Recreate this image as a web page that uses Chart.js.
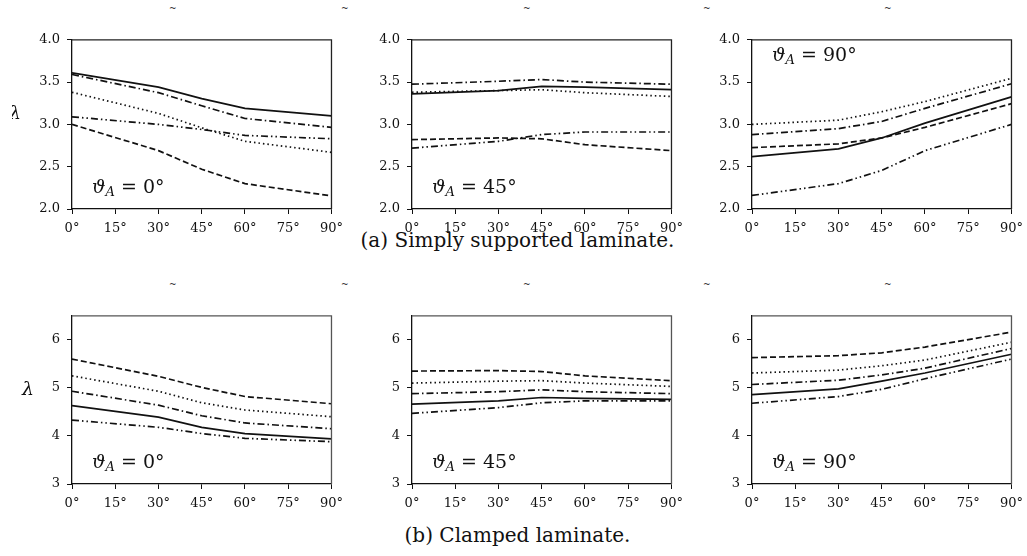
<!DOCTYPE html>
<html>
<head>
<meta charset="utf-8">
<script src="https://cdn.jsdelivr.net/npm/chart.js@4.4.1/dist/chart.umd.min.js"></script>
<style>
    body { margin: 0; background: #fff; width: 1027px; height: 556px; position: relative; overflow: hidden; font-family: "DejaVu Serif", serif; }
    .panel { position: absolute; }
    .caption { position: absolute; left: 0; width: 1035px; text-align: center; font-size: 20px; color: #111; }
    .clip { position: absolute; font-size: 9px; color: #333; line-height: 9px; }
</style>
</head>
<body>
<div class="caption" id="capA" style="top:228px;">(a) Simply supported laminate.</div>
<div class="caption" id="capB" style="top:523px;">(b) Clamped laminate.</div>

<script>
// fibre angle on the x axis (degrees)
const angles = [0, 30, 45, 60, 90];
const xTicks = [0, 15, 30, 45, 60, 75, 90];
const thetaA = [0, 45, 90];

// line order: solid, dashed, dotted, dash-dot, dash-dot-dot
// (a) simply supported laminate
const ssTheta0  = [[3.61, 3.44, 3.305, 3.19, 3.10], [3.00, 2.69, 2.47, 2.30, 2.155], [3.38, 3.13, 2.96, 2.80, 2.67], [3.59, 3.375, 3.22, 3.07, 2.965], [3.09, 3.00, 2.94, 2.87, 2.83]];
const ssTheta45 = [[3.36, 3.40, 3.45, 3.44, 3.41], [2.82, 2.84, 2.83, 2.76, 2.69], [3.38, 3.40, 3.41, 3.375, 3.33], [3.475, 3.51, 3.53, 3.50, 3.475], [2.72, 2.80, 2.88, 2.91, 2.91]];
const ssTheta90 = [[2.62, 2.71, 2.84, 3.015, 3.325], [2.725, 2.77, 2.84, 2.965, 3.245], [3.00, 3.05, 3.15, 3.27, 3.545], [2.88, 2.95, 3.035, 3.19, 3.48], [2.16, 2.30, 2.456, 2.69, 3.00]];
// (b) clamped laminate
const clTheta0  = [[4.63, 4.39, 4.18, 4.05, 3.94], [5.60, 5.24, 5.01, 4.82, 4.67], [5.25, 4.93, 4.69, 4.54, 4.40], [4.93, 4.64, 4.42, 4.27, 4.15], [4.33, 4.18, 4.05, 3.95, 3.88]];
const clTheta45 = [[4.66, 4.73, 4.80, 4.78, 4.76], [5.35, 5.36, 5.34, 5.25, 5.15], [5.10, 5.14, 5.15, 5.10, 5.03], [4.88, 4.92, 4.96, 4.92, 4.88], [4.47, 4.59, 4.69, 4.73, 4.73]];
const clTheta90 = [[4.86, 4.98, 5.14, 5.31, 5.70], [5.63, 5.67, 5.73, 5.85, 6.16], [5.31, 5.37, 5.46, 5.58, 5.95], [5.07, 5.16, 5.27, 5.41, 5.82], [4.68, 4.82, 4.97, 5.19, 5.60]];

const ssYTicks = [2.0, 2.5, 3.0, 3.5, 4.0];
const clYTicks = [3, 4, 5, 6];

const dashes = [[], [6, 3], [1.5, 3], [7, 3, 1.5, 3], [7, 3, 1.5, 3, 1.5, 3]];

// --- layout of the six panels ---
const plotLefts = [72, 412, 752];
const plotW = 262;
const rows = [
    { top: 37, h: 172, min: 2, max: 4, ticks: ssYTicks, fmt: v => v.toFixed(1), data: [ssTheta0, ssTheta45, ssTheta90], labelTop: [false, false, true], frame: "#222" },
    { top: 313, h: 171, min: 3, max: 6.5, ticks: clYTicks, fmt: v => String(v), data: [clTheta0, clTheta45, clTheta90], labelTop: [false, false, false], frame: "#555" }
];
const AXW = 60, PADR = 16, PADT = 12, AXH = 34;

const tickFont = { family: "DejaVu Serif", size: 13 };

// frame, theta label and lambda label
const panelDecor = {
    id: "panelDecor",
    afterDraw(chart) {
        const o = chart.options.plugins.panelDecor;
        const { ctx, chartArea: a } = chart;
        ctx.save();
        ctx.strokeStyle = o.frame;
        ctx.lineWidth = 1.3;
        ctx.beginPath();
        ctx.moveTo(a.left, a.top);
        ctx.lineTo(a.right, a.top);
        ctx.lineTo(a.right, a.bottom);
        ctx.stroke();

        // theta_A label
        const tx = a.left + 20;
        const ty = o.top ? a.top + 16 : a.bottom - 21;
        ctx.fillStyle = "#111";
        ctx.textBaseline = "middle";
        ctx.textAlign = "left";
        ctx.font = "italic 19px 'DejaVu Serif'";
        ctx.fillText("ϑ", tx, ty);
        let x = tx + ctx.measureText("ϑ").width;
        ctx.font = "italic 13px 'DejaVu Serif'";
        ctx.fillText("A", x, ty + 5);
        x += ctx.measureText("A").width;
        ctx.font = "19px 'DejaVu Serif'";
        ctx.fillText(" = " + o.theta + "°", x, ty);

        if (o.lambdaX !== null) {
            ctx.font = "italic 19px 'DejaVu Serif'";
            ctx.textAlign = "center";
            ctx.fillText("λ", a.left - o.lambdaX, a.top + (a.bottom - a.top) * 0.44);
        }
        ctx.restore();
    }
};

rows.forEach((row, r) => {
    plotLefts.forEach((pl, c) => {
        const div = document.createElement("div");
        div.className = "panel";
        div.style.left = (pl - AXW) + "px";
        div.style.top = (row.top - PADT) + "px";
        div.style.width = (AXW + plotW + PADR) + "px";
        div.style.height = (PADT + row.h + AXH) + "px";
        const canvas = document.createElement("canvas");
        div.appendChild(canvas);
        document.body.appendChild(div);

        const series = row.data[c];
        new Chart(canvas, {
            type: "line",
            data: {
                datasets: series.map((vals, i) => ({
                    label: "line " + (i + 1),
                    data: angles.map((a, k) => ({ x: a, y: vals[k] })),
                    borderColor: "#111",
                    borderWidth: 1.7,
                    borderDash: dashes[i],
                    pointRadius: 0,
                    tension: 0,
                    fill: false
                }))
            },
            options: {
                responsive: true,
                maintainAspectRatio: false,
                animation: false,
                layout: { padding: { left: 0, right: PADR, top: PADT, bottom: 0 } },
                plugins: {
                    legend: { display: false },
                    tooltip: { enabled: false },
                    panelDecor: { theta: thetaA[c], top: row.labelTop[c], frame: row.frame, lambdaX: c === 0 ? (r === 0 ? 57 : 44) : null }
                },
                scales: {
                    x: {
                        type: "linear",
                        min: 0,
                        max: 90,
                        afterBuildTicks: s => { s.ticks = xTicks.map(v => ({ value: v })); },
                        afterFit: s => { s.height = AXH; },
                        ticks: { color: "#111", font: tickFont, padding: 7, maxRotation: 0, autoSkip: false, callback: v => v + "°" },
                        grid: { drawOnChartArea: false, drawTicks: true, tickLength: 5, color: "#111" },
                        border: { display: true, color: "#111", width: 1.3 }
                    },
                    y: {
                        min: row.min,
                        max: row.max,
                        afterBuildTicks: s => { s.ticks = row.ticks.map(v => ({ value: v })); },
                        afterFit: s => { s.width = AXW; },
                        ticks: { color: "#111", font: tickFont, padding: 7, callback: v => row.fmt(v) },
                        grid: { drawOnChartArea: false, drawTicks: true, tickLength: 5, color: "#111" },
                        border: { display: true, color: "#111", width: 1.3 }
                    }
                }
            },
            plugins: [panelDecor]
        });
    });
});

// clipped remnants of text from above each row
[9, 285].forEach(y => {
    [173, 345, 527, 707, 888].forEach(x => {
        const s = document.createElement("div");
        s.className = "clip";
        s.style.left = (x - 4) + "px";
        s.style.top = (y - 5) + "px";
        s.textContent = "~";
        document.body.appendChild(s);
    });
});
</script>
</body>
</html>
